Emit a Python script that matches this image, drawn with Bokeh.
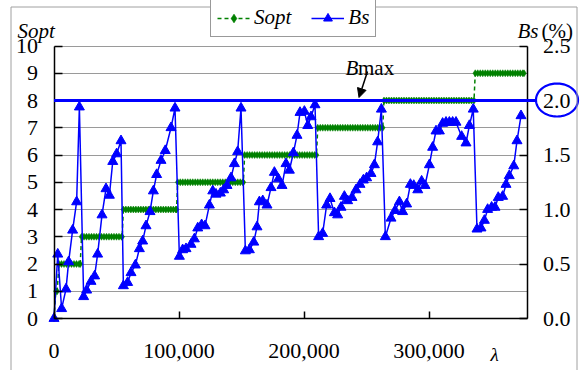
import numpy as np
from bokeh.plotting import figure
from bokeh.models import (Range1d, LinearAxis, FixedTicker, NumeralTickFormatter,
                          PrintfTickFormatter, Legend, LegendItem, Label, Arrow,
                          NormalHead, PolyAnnotation, Grid, AllLabels)
from bokeh.embed import file_html
from bokeh.resources import INLINE

# ---------------- data ----------------
bs_lambda = [0, 3000, 6100, 9600, 11700, 14900, 18100, 20300, 23700, 26100,
             29600, 32500, 34900, 38400, 41600, 44300, 47000, 50100, 53600, 55500,
             58900, 61600, 65100, 68300, 70900, 73600, 76800, 79500, 82100, 85600,
             89000, 93600, 96800, 100300, 102900, 105600, 109600, 112300, 115000, 118100,
             120800, 124300, 127000, 129600, 133100, 135700, 138400, 141600, 144300, 146900,
             149600, 153100, 156300, 159800, 162400, 164300, 167000, 170400, 173600, 176300,
             179500, 182400, 185600, 188300, 191500, 194400, 196800, 200300, 203000, 205600,
             208800, 211700, 214900, 218100, 220800, 224300, 226900, 229600, 232300, 234900,
             238400, 241600, 244800, 247500, 250100, 253600, 256300, 258900, 261900, 265100,
             269600, 272800, 276300, 278900, 282100, 285100, 287800, 291000, 294100, 296800,
             300300, 302900, 305600, 308300, 310900, 313600, 316300, 318900, 321600, 326100,
             329600, 332300, 335400, 338400, 341600, 344300, 346900, 350100, 352800, 355400,
             358900, 361600, 364200, 367800, 370400, 373600]
bs_pct = [0.00, 0.59, 0.09, 0.27, 0.52, 0.81, 1.07, 1.94, 0.20, 0.26,
          0.34, 0.39, 0.59, 0.95, 1.19, 1.13, 1.44, 1.51, 1.63, 0.30,
          0.33, 0.42, 0.49, 0.64, 0.71, 0.85, 0.98, 1.17, 1.32, 1.45,
          1.54, 1.75, 1.93, 0.57, 0.63, 0.64, 0.68, 0.73, 0.83, 0.86,
          0.85, 1.04, 1.17, 1.14, 1.15, 1.18, 1.22, 1.29, 1.42, 1.53,
          1.93, 0.62, 0.63, 0.70, 0.84, 1.07, 1.08, 1.04, 1.20, 1.34,
          1.28, 1.22, 1.42, 1.36, 1.52, 1.68, 1.89, 1.90, 1.77, 1.85,
          1.96, 0.75, 0.78, 1.04, 1.10, 0.97, 0.95, 1.02, 1.12, 1.08,
          1.11, 1.18, 1.23, 1.27, 1.29, 1.33, 1.41, 1.62, 1.92, 0.75,
          0.92, 0.99, 1.07, 0.98, 1.05, 1.23, 1.22, 1.18, 1.26, 1.22,
          1.41, 1.57, 1.72, 1.72, 1.79, 1.80, 1.80, 1.80, 1.80, 1.67,
          1.61, 1.77, 1.92, 0.82, 0.83, 0.90, 1.00, 1.02, 1.02, 1.11,
          1.12, 1.23, 1.31, 1.40, 1.63, 1.86]

sopt_levels = [0, 1, 2, 3, 4, 5, 6, 7, 8, 9]
sopt_from = [0, 1500, 4000, 22000, 55500, 99000, 152500, 211000, 264000, 337000]
sopt_to = [0, 2500, 21000, 54500, 98000, 151500, 210000, 263000, 336000, 376000]
sopt_step = 2000

x_ticks = [0, 100000, 200000, 300000]
s_ticks = list(range(0, 11))
b_ticks = [0.0, 0.5, 1.0, 1.5, 2.0, 2.5]
b_max = 2.0
S_MAX = 10
B_AXIS_MAX = 2.5
X_MAX = 378400

FONT = "Liberation Serif"
FS = "21px"
FS_TICK = "22px"
GREEN = "#008000"
BLUE = "#0000FF"

W, H = 584, 370
# plotting-area layout in canvas pixels
FRAME_LEFT_PX, FRAME_BOTTOM_PX = 53.5, 318.0
PX_W, PX_H = 473.0, 272.5
XPP = X_MAX / PX_W
YPP = S_MAX / PX_H


def px2x(px):
    return (px - FRAME_LEFT_PX) * XPP


def px2y(py):
    return (FRAME_BOTTOM_PX - py) * YPP


# ---------------- Sopt staircase points ----------------
sx, sy = [], []
for lv, a, b in zip(sopt_levels, sopt_from, sopt_to):
    pts = list(np.arange(a, b + 1, sopt_step)) if b > a else [a]
    if pts[-1] != b:
        pts.append(b)
    sx.extend(pts)
    sy.extend([lv] * len(pts))

# ---------------- figure (frame covers the canvas, axes pinned) ----------------
y0, y1 = px2y(H), px2y(0)
k = B_AXIS_MAX / S_MAX
p = figure(width=W, height=H, output_backend="svg", toolbar_location=None,
           x_range=Range1d(px2x(0), px2x(W)), y_range=Range1d(y0, y1),
           x_axis_type=None, y_axis_type=None,
           min_border_left=0, min_border_right=0, min_border_top=0, min_border_bottom=0)
p.extra_y_ranges = {"bs": Range1d(y0 * k, y1 * k)}
p.outline_line_color = None
p.background_fill_color = "white"
p.border_fill_color = "white"

grid = Grid(dimension=1, ticker=FixedTicker(ticks=s_ticks), grid_line_color="#9a9a9a",
            grid_line_width=1, bounds=(0, S_MAX))
if "cross_bounds" in Grid.properties():
    grid.cross_bounds = (0, X_MAX)
    p.add_layout(grid, "center")
else:
    p.segment(x0=0, x1=X_MAX, y0=s_ticks, y1=s_ticks, line_color="#9a9a9a", line_width=1)

x_axis = LinearAxis(ticker=FixedTicker(ticks=x_ticks), formatter=NumeralTickFormatter(format="0,0"),
                    fixed_location=0, bounds=(0, X_MAX))
y_axis = LinearAxis(ticker=FixedTicker(ticks=s_ticks), fixed_location=0, bounds=(0, S_MAX))
r_axis = LinearAxis(y_range_name="bs", ticker=FixedTicker(ticks=b_ticks),
                    formatter=PrintfTickFormatter(format="%.1f"),
                    fixed_location=X_MAX, bounds=(0, B_AXIS_MAX))
for ax in (x_axis, y_axis, r_axis):
    ax.axis_line_color = "black"
    ax.axis_line_width = 1.5
    ax.major_tick_in = 8
    ax.major_tick_out = 0
    ax.major_tick_line_color = "black"
    ax.major_tick_line_width = 1.5
    ax.minor_tick_line_color = None
    ax.major_label_text_font = FONT
    ax.major_label_text_font_size = FS_TICK
    ax.major_label_text_color = "black"
    ax.major_label_standoff = 16
    ax.major_label_policy = AllLabels()
x_axis.major_tick_in = 7
x_axis.major_label_standoff = 25
p.add_layout(x_axis, "below")
p.add_layout(y_axis, "left")
p.add_layout(r_axis, "right")

# ---------------- series ----------------
s_line = p.line(sx, sy, line_color=GREEN, line_width=1.5, line_dash="4 3")
s_pts = p.scatter(sx, sy, marker="diamond", size=7, fill_color=GREEN,
                  line_color=GREEN, line_width=0.5)
b_line = p.line(bs_lambda, bs_pct, y_range_name="bs", line_color=BLUE, line_width=1.5)
b_pts = p.scatter(bs_lambda, bs_pct, y_range_name="bs", marker="triangle", size=10,
                  fill_color=BLUE, line_color=BLUE)

# ---------------- Bmax line + ellipse round the 2.0 label ----------------
b_max_s = b_max / k
p.add_layout(Arrow(end=None, x_start=0, y_start=b_max_s, x_end=px2x(535.5), y_end=b_max_s,
                   line_color=BLUE, line_width=2.8))
t = np.linspace(0, 2 * np.pi, 97)
ecx, ecy, erx, ery = 556.5, 99.5, 21.0, 16.5
p.add_layout(PolyAnnotation(xs=[px2x(ecx + erx * np.cos(a)) for a in t],
                            ys=[px2y(ecy + ery * np.sin(a)) for a in t],
                            fill_alpha=0, line_color=BLUE, line_alpha=1.0, line_width=2.2))

# Bmax callout
p.add_layout(Label(x=px2x(345), y=px2y(67), text="B", text_font=FONT, text_font_size=FS,
                   text_font_style="italic", text_baseline="alphabetic", text_color="black"))
p.add_layout(Label(x=px2x(357.5), y=px2y(67), text="max", text_font=FONT, text_font_size=FS,
                   text_baseline="alphabetic", text_color="black"))
p.add_layout(Arrow(end=NormalHead(size=9, fill_color="black", line_color="black"),
                   x_start=px2x(367), y_start=px2y(71), x_end=px2x(358.5), y_end=px2y(97),
                   line_color="black", line_width=1.5))

# axis titles
p.add_layout(Label(x=px2x(17), y=px2y(30), text="Sopt", text_font=FONT, text_font_size=FS,
                   text_font_style="italic", text_baseline="alphabetic", text_color="black"))
p.add_layout(Label(x=px2x(517), y=px2y(30), text="Bs", text_font=FONT, text_font_size=FS,
                   text_font_style="italic", text_baseline="alphabetic", text_color="black"))
p.add_layout(Label(x=px2x(541), y=px2y(30), text="(%)", text_font=FONT, text_font_size=FS,
                   text_baseline="alphabetic", text_color="black"))
p.add_layout(Label(x=px2x(490), y=px2y(354), text="λ", text_font=FONT, text_font_size="19px",
                   text_font_style="italic", text_baseline="alphabetic", text_color="black"))

# outer chart border
p.add_layout(PolyAnnotation(xs=[px2x(10.5), px2x(10.5), px2x(576.5), px2x(576.5)],
                            ys=[px2y(400), px2y(6.5), px2y(6.5), px2y(400)],
                            fill_alpha=0, line_color="#a0a0a0", line_alpha=1.0, line_width=1))

# ---------------- legend ----------------
legend = Legend(items=[LegendItem(label="Sopt", renderers=[s_line, s_pts]),
                       LegendItem(label="Bs", renderers=[b_line, b_pts])],
                orientation="horizontal", location=(210, H - 37),
                label_text_font=FONT, label_text_font_size=FS,
                label_text_font_style="italic", label_text_color="black",
                glyph_width=33, glyph_height=22, label_standoff=4, spacing=20,
                padding=6, margin=0, border_line_color="#333333", border_line_width=1,
                background_fill_color="white", background_fill_alpha=1.0)
p.add_layout(legend, "center")

open("out.html", "w").write(file_html(p, INLINE))
